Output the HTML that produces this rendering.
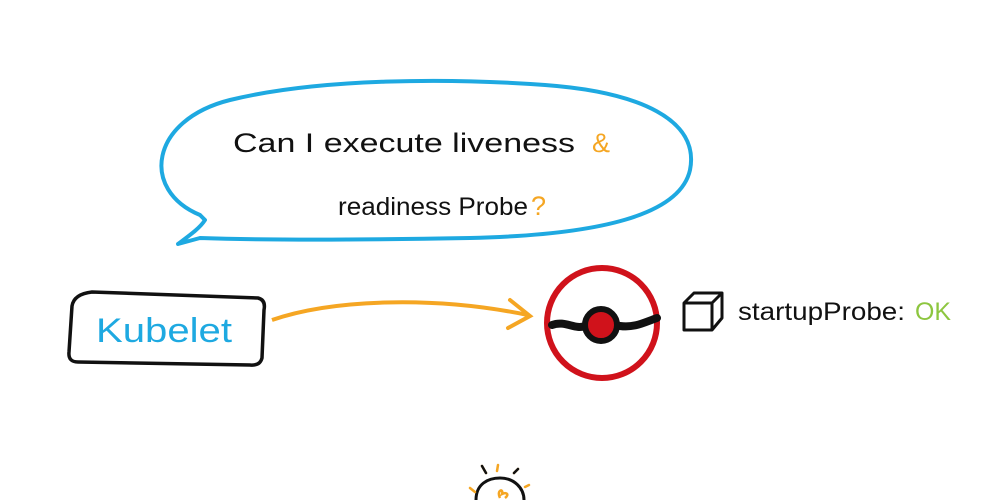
<!DOCTYPE html>
<html><head><style>body{margin:0;background:#fff}svg{display:block}</style></head><body>
<svg width="1000" height="500" viewBox="0 0 1000 500" xmlns="http://www.w3.org/2000/svg">
<rect width="1000" height="500" fill="#fff"/>
<path d="M200,215 C140,190 150,120 230,100 C320,78 450,78 545,85 C640,92 700,120 690,170 C680,215 600,235 470,238 C360,240 260,240 200,238 L178,244 C190,235 200,228 205,220 Z" fill="none" stroke="#1ea9e1" stroke-width="4" stroke-linejoin="round"/>
<text x="233" y="152" font-family="Liberation Sans, sans-serif" font-size="27" fill="#111" textLength="342" lengthAdjust="spacingAndGlyphs">Can I execute  liveness</text>
<text x="592" y="152" font-family="Liberation Sans, sans-serif" font-size="27" fill="#f5a623">&amp;</text>
<text x="338" y="215" font-family="Liberation Sans, sans-serif" font-size="25" fill="#111" textLength="190" lengthAdjust="spacingAndGlyphs">readiness Probe</text>
<text x="531" y="215" font-family="Liberation Sans, sans-serif" font-size="27" fill="#f5a623">?</text>
<path d="M92,292 L258,298 Q266,300 264,310 L262,358 Q260,366 250,365 L78,362 Q68,362 69,352 L72,306 Q74,294 92,292 Z" fill="none" stroke="#111" stroke-width="3.5"/>
<text x="96" y="342" font-family="Liberation Sans, sans-serif" font-size="34" fill="#1ea9e1" textLength="136" lengthAdjust="spacingAndGlyphs">Kubelet</text>
<path d="M272,320 C330,300 430,295 528,315" fill="none" stroke="#f5a623" stroke-width="4"/>
<path d="M510,300 L530,316 L508,328" fill="none" stroke="#f5a623" stroke-width="4" stroke-linecap="round"/>
<circle cx="602" cy="323" r="55" fill="none" stroke="#d0121b" stroke-width="6"/>
<path d="M552,325 C565,320 575,330 585,326 M620,326 C635,328 645,322 657,318" fill="none" stroke="#111" stroke-width="8" stroke-linecap="round"/>
<circle cx="601" cy="325" r="16" fill="#d0121b" stroke="#111" stroke-width="6"/>
<path d="M684,303 L694,293 L722,293 L722,318 L712,330 L684,330 Z M684,303 L712,303 L712,330 M712,303 L722,293" fill="none" stroke="#111" stroke-width="3" stroke-linejoin="round"/>
<text x="738" y="320" font-family="Liberation Sans, sans-serif" font-size="25" fill="#111" textLength="167" lengthAdjust="spacingAndGlyphs">startupProbe:</text>
<text x="915" y="320" font-family="Liberation Sans, sans-serif" font-size="25" fill="#8dc63f" textLength="36" lengthAdjust="spacingAndGlyphs">OK</text>
<path d="M476,500 C476,484 488,478 500,478 C514,478 524,488 524,500" fill="none" stroke="#111" stroke-width="3"/>
<path d="M482,466 L486,473 M514,473 L518,469 M470,488 L475,492 M525,487 L529,485 M498,465 L497,471" stroke="#f5a623" stroke-width="2.5" stroke-linecap="round"/>
<path d="M482,466 L486,473 M514,473 L518,469" stroke="#111" stroke-width="2.5" stroke-linecap="round"/>
<path d="M500,498 C496,490 504,488 502,494 C506,492 510,494 505,498" fill="none" stroke="#f5a623" stroke-width="2.5"/>
</svg>
</body></html>
